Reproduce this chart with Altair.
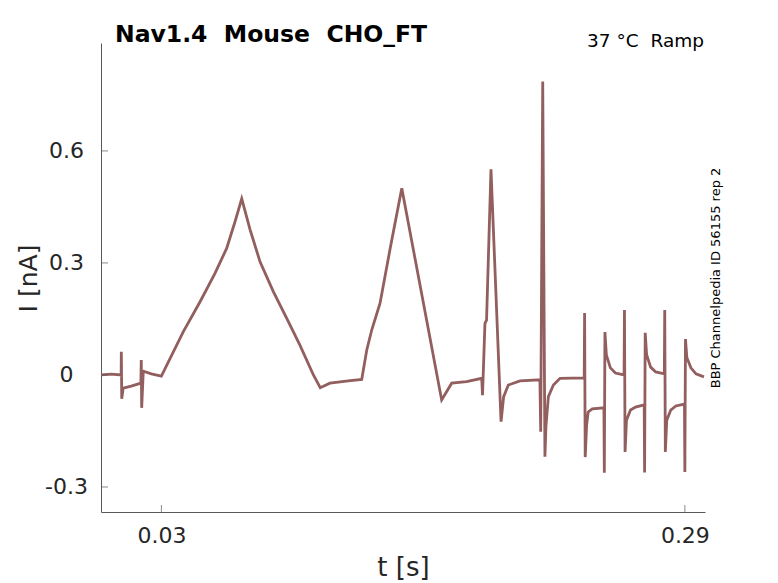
import altair as alt
import pandas as pd

# trace: time [s] and current [nA]
t_s = [
    0.0000, 0.0050, 0.0100, 0.0101, 0.0103, 0.0110, 0.0150, 0.0198,
    0.0200, 0.0202, 0.0210, 0.0250, 0.0300,
    # ramp 1
    0.0303, 0.0409, 0.0492, 0.0566, 0.0624, 0.0666, 0.0699,
    0.0740, 0.0790, 0.0856, 0.0922, 0.0988, 0.1055, 0.1089, 0.1137, 0.1228, 0.1295,
    # ramp 2
    0.1320, 0.1345, 0.1386, 0.1435, 0.1494, 0.1692, 0.1742, 0.1816, 0.1891,
    # ramp 3
    0.1895, 0.1907, 0.1915, 0.1937, 0.1987, 0.2000, 0.2023, 0.2081, 0.2180,
    # ramp 4
    0.2184, 0.2194, 0.2205, 0.2210, 0.2222, 0.2247, 0.2280, 0.2400,
    # pulse train
    0.2402, 0.2405, 0.2412, 0.2420, 0.2440, 0.2498,
    0.2500, 0.2503, 0.2510, 0.2530, 0.2555, 0.2598,
    0.2600, 0.2603, 0.2610, 0.2630, 0.2655, 0.2698,
    0.2700, 0.2703, 0.2710, 0.2730, 0.2755, 0.2798,
    0.2800, 0.2803, 0.2810, 0.2830, 0.2855, 0.2898,
    0.2900, 0.2903, 0.2910, 0.2930, 0.2955, 0.2995,
]
i_na = [
    0.000, 0.002, 0.000, 0.062, -0.064, -0.035, -0.030, -0.022,
    0.040, -0.088, 0.010, 0.003, -0.003,
    0.000, 0.116, 0.196, 0.272, 0.339, 0.411, 0.472,
    0.390, 0.303, 0.223, 0.152, 0.080, 0.000, -0.034, -0.022, -0.016, -0.012,
    0.067, 0.121, 0.192, 0.335, 0.500, -0.067, -0.022, -0.018, -0.009,
    -0.054, 0.138, 0.147, 0.551, -0.125, -0.058, -0.027, -0.016, -0.013,
    -0.152, 0.786, -0.219, -0.138, -0.058, -0.027, -0.009, -0.008,
    0.166, -0.220, -0.134, -0.099, -0.091, -0.088,
    -0.262, 0.115, 0.054, 0.019, 0.005, 0.000,
    0.174, -0.206, -0.121, -0.094, -0.086, -0.080,
    -0.261, 0.113, 0.054, 0.021, 0.008, 0.003,
    0.174, -0.206, -0.121, -0.094, -0.083, -0.078,
    -0.260, 0.096, 0.046, 0.019, 0.003, -0.005,
]

x_ticks = [0.03, 0.29]
y_ticks = [-0.3, 0, 0.3, 0.6]
x_domain = [0, 0.3]
y_domain = [-0.367, 0.889]

# double spaces kept with a no-break space (svg collapses plain ones)
title_txt = 'Nav1.4\u00a0 Mouse\u00a0 CHO_FT'
cond_txt = '37 °C\u00a0 Ramp'
side_txt = 'BBP Channelpedia ID 56155 rep 2'

FONT = 'DejaVu Sans'
AX = '#595959'
LAB = '#262626'

trace = pd.DataFrame({'t': t_s, 'I': i_na, 'k': range(len(t_s))})

xs = alt.Scale(domain=x_domain, nice=False, zero=False)
ys = alt.Scale(domain=y_domain, nice=False, zero=False)

line = alt.Chart(trace).mark_line(color='#925e5e', strokeWidth=2.8).encode(
    x=alt.X('t:Q', scale=xs, title='t [s]',
            axis=alt.Axis(values=x_ticks, grid=False, ticks=False, tickSize=0,
                          domainColor=AX, labelFont=FONT, labelFontSize=22,
                          labelColor=LAB, labelPadding=23, labelBaseline='middle',
                          labelFlush=False, labelExpr="'' + datum.value",
                          titleFont=FONT, titleFontSize=26, titleFontWeight='normal',
                          titleColor=LAB, titleX=302, titleY=55,
                          titleBaseline='middle')),
    y=alt.Y('I:Q', scale=ys, title='I [nA]',
            axis=alt.Axis(values=y_ticks, grid=False, ticks=False, tickSize=0,
                          domainColor=AX, labelFont=FONT, labelFontSize=22,
                          labelColor=LAB, labelPadding=35, labelAlign='center',
                          labelBaseline='middle', labelExpr="'' + datum.value",
                          titleFont=FONT, titleFontSize=25, titleFontWeight='normal',
                          titleColor=LAB, titleX=-73, titleY=235, titleAngle=270,
                          titleAlign='center', titleBaseline='middle')),
    order='k:Q',
)

# inward ticks
xt = alt.Chart(pd.DataFrame({'t': x_ticks})).mark_tick(
    orient='vertical', size=7, thickness=1, color=AX, yOffset=-3.5
).encode(x=alt.X('t:Q', scale=xs), y=alt.datum(y_domain[0]))

yt = alt.Chart(pd.DataFrame({'I': y_ticks})).mark_tick(
    orient='horizontal', size=7, thickness=1, color=AX, xOffset=3.5
).encode(y=alt.Y('I:Q', scale=ys), x=alt.datum(x_domain[0]))

title = alt.Chart(pd.DataFrame({'s': [title_txt]})).mark_text(
    font=FONT, fontSize=23.5, fontWeight='bold', color='black',
    align='left', baseline='alphabetic'
).encode(text='s:N', x=alt.value(14), y=alt.value(-1))

cond = alt.Chart(pd.DataFrame({'s': [cond_txt]})).mark_text(
    font=FONT, fontSize=18.5, color='black', align='right', baseline='alphabetic'
).encode(text='s:N', x=alt.value(603), y=alt.value(4))

side = alt.Chart(pd.DataFrame({'s': [side_txt]})).mark_text(
    font=FONT, fontSize=13, color='black', align='center', baseline='middle',
    angle=270
).encode(text='s:N', x=alt.value(615), y=alt.value(235))

chart = alt.layer(line, xt, yt, title, cond, side).properties(
    width=604, height=469,
    autosize=alt.AutoSizeParams(type='none'),
    padding={'left': 93, 'top': 35, 'right': 65, 'bottom': 70},
).configure_view(strokeWidth=0)

chart.save('out.html', embed_options={'renderer': 'svg', 'actions': False})
